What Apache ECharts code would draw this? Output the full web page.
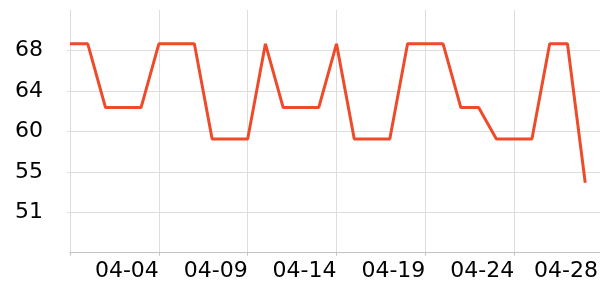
<!DOCTYPE html>
<html>
<head>
<meta charset="utf-8">
<script src="https://cdn.jsdelivr.net/npm/echarts@6/dist/echarts.min.js"></script>
<style>html,body{margin:0;padding:0;background:#fff}#c{width:600px;height:300px}</style>
</head>
<body>
<div id="c"></div>
<script>
// categories: daily dates (axis runs one day beyond the last data point)
const categories = ['03-30','03-31','04-01','04-02','04-03','04-04','04-05','04-06','04-07','04-08',
  '04-09','04-10','04-11','04-12','04-13','04-14','04-15','04-16','04-17','04-18',
  '04-19','04-20','04-21','04-22','04-23','04-24','04-25','04-26','04-27','04-28','04-29'];
const values = [68.7, 68.7, 62.0, 62.0, 62.0, 68.7, 68.7, 68.7, 58.7, 58.7,
  58.7, 68.7, 62.0, 62.0, 62.0, 68.7, 58.7, 58.7, 58.7, 68.7,
  68.7, 68.7, 62.0, 62.0, 58.7, 58.7, 58.7, 68.7, 68.7, 54.1];
const xTickLabels = ['04-04','04-09','04-14','04-19','04-24','04-28'];
const yMin = 46.75, yMax = 72.25, yStep = 4.25;

const chart = echarts.init(document.getElementById('c'), null, {renderer: 'canvas'});
chart.setOption({
  animation: false,
  grid: {left: 70, right: -3, top: 10, bottom: 47.3, outerBoundsMode: 'none', containLabel: false},
  xAxis: {
    type: 'category',
    data: categories,
    boundaryGap: false,
    axisLine: {lineStyle: {color: '#c4c4c4', width: 1}},
    axisTick: {show: true, interval: 4, length: 3, lineStyle: {color: '#c4c4c4'}},
    splitLine: {show: true, interval: 4, lineStyle: {color: '#dddddd', width: 1}},
    axisLabel: {
      interval: function (i) { return i > 0 && i % 5 === 0; },
      formatter: function (v, i) {
        const k = Math.round(i / 5) - 1;
        const t = xTickLabels[k] || '';
        return k === xTickLabels.length - 1 ? '{e|' + t + '}' : t;
      },
      align: 'right',
      margin: 8,
      color: '#000',
      fontFamily: 'DejaVu Sans',
      fontSize: 22,
      rich: {e: {color: '#000', fontFamily: 'DejaVu Sans', fontSize: 22, padding: [0, 5, 0, 0]}}
    }
  },
  yAxis: {
    type: 'value',
    min: yMin, max: yMax, interval: yStep,
    axisLine: {show: false},
    axisTick: {show: true, length: 3, lineStyle: {color: '#dddddd'}},
    splitLine: {show: true, showMaxLine: false, lineStyle: {color: '#dddddd', width: 1}},
    axisLabel: {
      showMinLabel: false, showMaxLabel: false,
      formatter: function (v) { return Math.round(v).toString(); },
      margin: 27,
      color: '#000',
      fontFamily: 'DejaVu Sans',
      fontSize: 22
    }
  },
  series: [{
    type: 'line',
    data: values,
    showSymbol: false,
    lineStyle: {color: '#ee4b2b', width: 3},
    itemStyle: {color: '#ee4b2b'}
  }]
});
</script>
</body>
</html>
